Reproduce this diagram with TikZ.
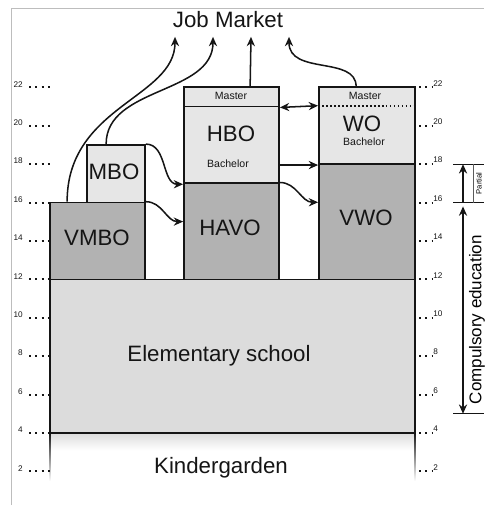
\documentclass[tikz,border=0pt]{standalone}
\usepackage{fontspec}
\setmainfont{Liberation Sans}
\usepackage{tikz}
\usetikzlibrary{arrows.meta,positioning,calc,fit}
\definecolor{ink}{HTML}{151515}
\definecolor{lowfill}{HTML}{B2B2B2}
\definecolor{highfill}{HTML}{E6E6E6}
\definecolor{basefill}{HTML}{DCDCDC}
\definecolor{framegray}{HTML}{BDBDBD}
\tikzset{
  schoolbox/.style={rectangle,draw=ink,line width=1.5pt,inner sep=0pt},
  lowbox/.style={schoolbox,fill=lowfill},
  highbox/.style={schoolbox,fill=highfill},
  bigname/.style={font=\fontsize{19}{19}\selectfont,text=ink,inner sep=0pt},
  degname/.style={font=\fontsize{9}{9}\selectfont,text=ink,inner sep=0pt},
  pathway/.style={-{Stealth[length=8pt,width=7pt]},line width=1.3pt,color=ink},
  agetick/.style={font=\fontsize{7}{7}\selectfont,text=ink,inner sep=0pt},
  agedots/.style={line width=1.6pt,dash pattern=on 1.6pt off 3.8pt,color=ink},
  spanline/.style={line width=1pt,color=ink},
}
\begin{document}
\begin{tikzpicture}[x=0.03cm, y=0.576cm]
  \useasboundingbox (0,0.146) rectangle (484,26.55);
  \draw[framegray,line width=0.6pt] (11,0.25) -- (11,26.13) -- (484,26.13);

  % kindergarden, fading out
  \shade[top color=basefill, bottom color=white] (50,3.1) rectangle (415,4);
  \shade[top color=ink, bottom color=white] (49.2,1.5) rectangle (50.8,4);
  \shade[top color=ink, bottom color=white] (414.2,1.5) rectangle (415.8,4);
  \node[bigname] (kg) at (221,2.2) {Kindergarden};

  \node[schoolbox,fill=basefill,fit={(50,4) (415,12)}] (elem) {};
  \node[bigname] (eleml) at (219,8) {Elementary school};

  \node[lowbox,fit={(50,12) (145,16)}] (vmbo) {};
  \node[highbox,fit={(87,16) (145,19)}] (mbo) {};
  \node[lowbox,fit={(184,12) (279,17)}] (havo) {};
  \node[highbox,fit={(184,17) (279,22)}] (hbo) {};
  \node[highbox,fit={(184,21) (279,22)}] (hbom) {};
  \node[lowbox,fit={(319,12) (415,18)}] (vwo) {};
  \node[highbox,fit={(319,18) (415,22)}] (wo) {};
  \draw[line width=1.4pt,dotted,color=ink] ($(wo.north west)+(0,-1)$) -- ($(wo.north east)+(0,-1)$);

  \node[bigname] (vmbol) at (97,14.15) {VMBO};
  \node[bigname] (mbol) at (114,17.6) {MBO};
  \node[bigname] (havol) at (230,14.7) {HAVO};
  \node[bigname] (hbol) at (231,19.6) {HBO};
  \node[degname] (hbob) at (228,18) {Bachelor};
  \node[degname] (hbomt) at (231,21.55) {Master};
  \node[bigname] (vwol) at (366,15.2) {VWO};
  \node[bigname] (wol) at (362,20.1) {WO};
  \node[degname] (wob) at (364,19.15) {Bachelor};
  \node[degname] (womt) at (365,21.55) {Master};

  % ages
  \foreach \a in {2,4,...,22} {
    \node[agetick,anchor=south east] (la\a) at (23,\a) {\a};
    \draw[agedots] (29,\a) -- (51,\a);
    \draw[agedots] (419,\a) -- (432,\a);
    \node[agetick,anchor=south west] (ra\a) at (433,\a+0.05) {\a};
  }

  % job market
  \node[bigname] (job) at (228,25.55) {Job Market};
  \coordinate (jm1) at (175,24.63);
  \coordinate (jm2) at (213,24.63);
  \coordinate (jm3) at (251,24.63);
  \coordinate (jm4) at (289,24.63);
  \coordinate (vmbout) at ($(vmbo.north west)+(18,0)$);
  \coordinate (mbout) at ($(mbo.north west)+(20,0)$);
  \coordinate (wout) at ($(wo.north west)+(38,0)$);
  \draw[pathway] (vmbout) .. controls ($(vmbout)+(0,5)$) and ($(jm1)+(0,-3.2)$) .. (jm1);
  \draw[pathway] (mbout) .. controls ($(mbout)+(0,3)$) and ($(jm2)+(0,-3)$) .. (jm2);
  \draw[pathway] ($(hbo.north west)+(67,0)$) -- (jm3);
  \draw[pathway] (wout) .. controls ($(wout)+(0,1.6)$) and ($(jm4)+(0,-2)$) .. (jm4);

  % transfers
  \draw[pathway] (mbo.north east) to[out=0,in=180] (hbo.south west);
  \draw[pathway] (vmbo.north east) to[out=0,in=180] ($(havo.south west)!0.6!(havo.north west)$);
  \draw[pathway] (havo.north east) to[out=0,in=180] ($(vwo.south west)!4/6!(vwo.north west)$);
  \draw[pathway] ($(hbo.south east)+(0,1)$) -- (wo.south west);
  \draw[pathway,{Stealth[length=8pt,width=7pt]}-{Stealth[length=8pt,width=7pt]}] (hbom.south east) -- ($(wo.north west)+(0,-1)$);

  % compulsory span
  \coordinate (s18) at (453,18);
  \coordinate (s16) at (453,16);
  \coordinate (s5) at (453,5);
  \draw[spanline] (s18) -- (484,18);
  \draw[spanline] (s16) -- (484,16);
  \draw[spanline] (s5) -- (484,5);
  \draw[line width=0.5pt,color=ink!70] (473,16) -- (473,18);
  \draw[pathway] ($(s16)+(10,0)$) -- ($(s18)+(10,0)$);
  \draw[pathway,{Stealth[length=8pt,width=7pt]}-{Stealth[length=8pt,width=7pt]}] ($(s5)+(10,0)$) -- ($(s16)+(10,-0.2)$);
  \node[rotate=90,font=\fontsize{6.5}{6.5}\selectfont,inner sep=0pt] (part) at (479,17) {Partial};
  \node[rotate=90,font=\fontsize{14.5}{14.5}\selectfont,inner sep=0pt] (comp) at (477,9.9) {Compulsory education};
\end{tikzpicture}
\end{document}
